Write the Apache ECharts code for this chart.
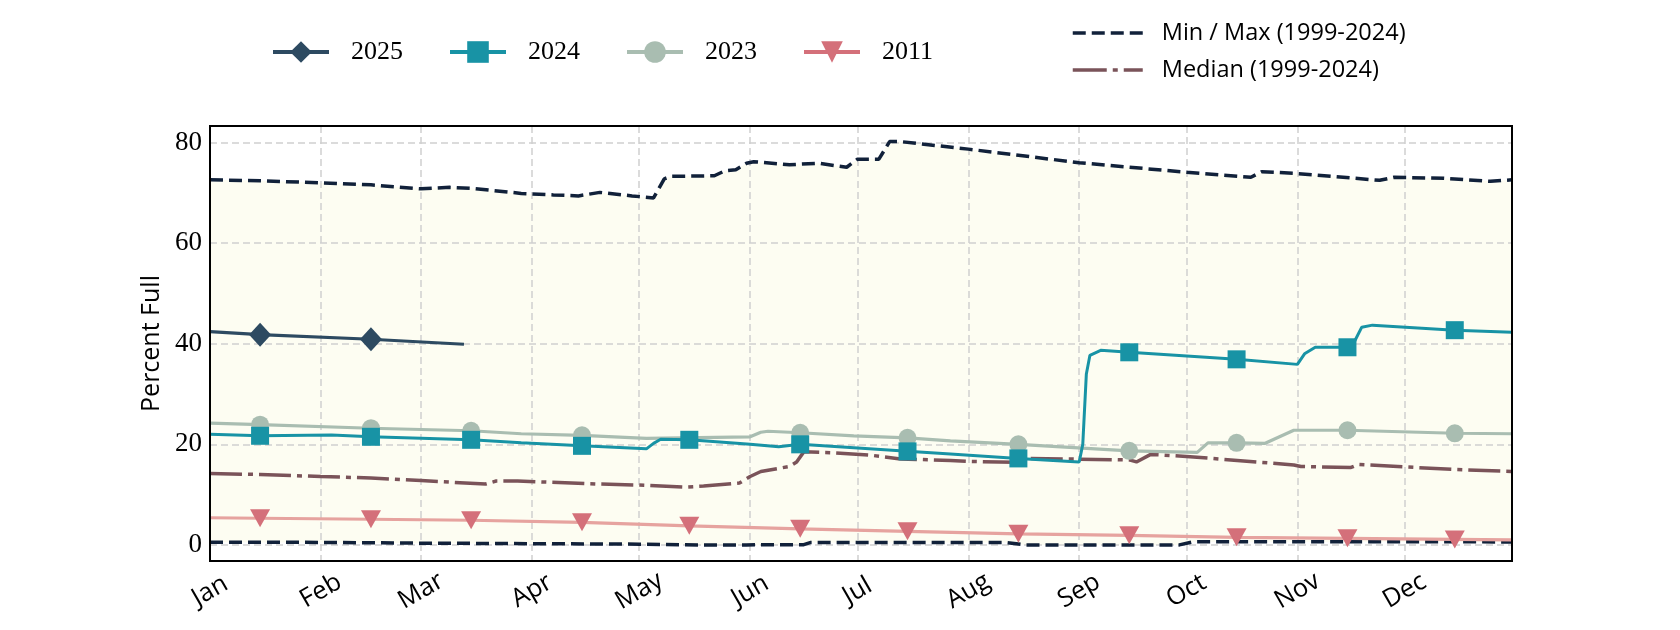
<!DOCTYPE html>
<html><head><meta charset="utf-8">
<script src="https://cdn.jsdelivr.net/npm/echarts@6/dist/echarts.min.js"></script>
<style>html,body{margin:0;padding:0;background:#fff}#c{width:1680px;height:630px}</style>
</head><body><div id="c"></div>
<script>
// ---- axis data ----
const monthLabels = ['Jan','Feb','Mar','Apr','May','Jun','Jul','Aug','Sep','Oct','Nov','Dec'];
const monthStartDays = [0,31,59,90,120,151,181,212,243,273,304,334];
const markerDays = [14,45,73,104,134,165,195,226,257,287,318,348];
const yTicks = [0,20,40,60,80];

// ---- series data: [day of year (0 = Jan 1), percent full] ----
const maxLine = [[0,72.6],[14,72.4],[31,72.0],[45,71.6],[59,70.8],[67,71.1],[73,70.9],[87,69.9],[96,69.6],[103,69.4],[109,70.1],[118,69.4],[124,69.0],[127,72.8],[129,73.3],[141,73.4],[144,74.4],[147,74.6],[150,75.9],[152,76.2],[162,75.6],[170,75.9],[178,75.1],[181,76.7],[187,76.7],[190,80.2],[193,80.2],[212,78.7],[243,76.0],[273,74.1],[291,73.1],[294,74.2],[303,73.9],[327,72.5],[331,73.1],[345,72.9],[358,72.3],[364,72.6]];
const minLine = [[0,0.55],[31,0.5],[59,0.35],[90,0.25],[120,0.15],[137,0.0],[150,0.0],[166,0.05],[168,0.5],[222,0.5],[228,0.0],[271,0.0],[275,0.65],[364,0.6]];
const medianLine = [[0,14.2],[14,14.0],[31,13.6],[45,13.3],[59,12.8],[77,12.1],[80,12.7],[86,12.7],[109,12.1],[120,11.9],[133,11.5],[138,11.7],[148,12.3],[151,13.6],[154,14.6],[162,15.6],[164,16.5],[166,18.5],[175,18.3],[184,17.9],[193,17.1],[207,16.8],[212,16.6],[226,16.4],[228,17.2],[257,16.9],[259,16.5],[263,18.0],[273,17.6],[303,15.9],[305,15.6],[319,15.4],[321,16.0],[348,15.0],[364,14.6]];
const y2025 = [[0,42.4],[14,41.8],[45,40.9],[71,39.9]];
const y2024 = [[0,22.0],[14,21.7],[34,21.85],[45,21.5],[59,21.2],[73,20.9],[87,20.3],[104,19.7],[122,19.1],[124,20.2],[126,21.0],[134,20.9],[151,20.0],[159,19.5],[165,20.0],[180,19.3],[195,18.6],[207,18.1],[226,17.2],[243,16.5],[244,20.0],[245,34.0],[246,37.7],[249,38.7],[257,38.3],[287,36.9],[304,35.9],[306,38.0],[309,39.3],[318,39.3],[320,40.5],[322,43.3],[325,43.7],[348,42.7],[364,42.3]];
const y2023 = [[0,24.2],[14,23.9],[45,23.2],[73,22.7],[87,22.1],[104,21.8],[122,21.2],[151,21.5],[154,22.4],[156,22.6],[165,22.3],[180,21.7],[195,21.3],[207,20.7],[226,20.0],[257,18.7],[276,18.4],[279,20.3],[287,20.3],[295,20.2],[299,21.5],[303,22.8],[318,22.8],[348,22.2],[364,22.1]];
const y2011 = [[0,5.4],[14,5.3],[45,5.1],[73,4.9],[104,4.5],[134,3.8],[165,3.2],[195,2.7],[226,2.2],[257,1.9],[287,1.5],[318,1.3],[348,1.1],[364,1.0]];

const MINMAX = 'Min / Max (1999-2024)';
const MEDIAN = 'Median (1999-2024)';

function withMarkers(pts) {
  return pts.map(p => markerDays.indexOf(p[0]) >= 0 ? {value: p} : {value: p, symbol: 'none'});
}

const chart = echarts.init(document.getElementById('c'), null, {renderer: 'canvas'});
chart.setOption({
  animation: false,
  backgroundColor: '#ffffff',
  grid: {left: 210, right: 168, top: 126, bottom: 69, show: true, z: 10,
         backgroundColor: 'transparent', borderColor: '#000', borderWidth: 2},
  legend: [
    {data: [
       {name:'2025', lineStyle:{width:4}},
       {name:'2024', lineStyle:{width:4}},
       {name:'2023', lineStyle:{width:4}},
       {name:'2011', lineStyle:{color:'#d4707a', width:4}}],
     left: 266, top: 34, orient: 'horizontal', itemWidth: 56, itemHeight: 27, itemGap: 45,
     textStyle: {fontFamily: 'Liberation Serif', fontSize: 26, color: '#000', padding: [0,0,0,17]}},
    {data: [
       {name: MINMAX, itemStyle:{opacity:0}, lineStyle:{width:3.5, type:[13,6]}},
       {name: MEDIAN, itemStyle:{opacity:0}, lineStyle:{width:3.5, type:[34,6,5,6]}}],
     left: 1066, top: 16, orient: 'vertical', itemWidth: 70, itemHeight: 20, itemGap: 13,
     textStyle: {fontFamily: 'Open Sans', fontSize: 23.5, color: '#000', padding: [0,0,0,14]}}
  ],
  xAxis: {
    type: 'value', min: 0, max: 364, z: 2,
    axisLine: {show: false}, axisTick: {show: false, customValues: monthStartDays},
    axisLabel: {customValues: monthStartDays, rotate: 30, align: 'center', verticalAlign: 'middle', margin: 30,
      fontFamily: 'Open Sans', fontSize: 25.5, color: '#000',
      formatter: v => monthLabels[monthStartDays.indexOf(v)]},
    splitLine: {show: true, lineStyle: {color: '#cfcfcf', width: 1.5, type: [7,4]}}
  },
  yAxis: {
    type: 'value', min: -3.2, max: 83.3, z: 2,
    name: 'Percent Full', nameLocation: 'middle', nameRotate: 90, nameGap: 46,
    nameTextStyle: {fontFamily: 'Open Sans', fontSize: 25, color: '#000'},
    axisLine: {show: false}, axisTick: {show: false, customValues: yTicks},
    axisLabel: {customValues: yTicks, margin: 8, fontFamily: 'Liberation Serif', fontSize: 27, color: '#000'},
    splitLine: {show: true, lineStyle: {color: '#cfcfcf', width: 1.5, type: [7,4]}}
  },
  series: [
    {type: 'custom', z: 1, silent: true, data: [[0, 0]],
     renderItem: (params, api) => {
       const pts = maxLine.map(p => api.coord(p)).concat(minLine.slice().reverse().map(p => api.coord(p)));
       return {type: 'polygon', shape: {points: pts}, style: {fill: '#fdfdf2'}};
     }},
    {name: MINMAX, type: 'line', z: 3, data: maxLine, symbol: 'none', showSymbol: false,
     lineStyle: {color: '#11213a', width: 3.5, type: [13,6]}, itemStyle: {color: '#11213a'}},
    {name: MINMAX, type: 'line', z: 3, data: minLine, symbol: 'none', showSymbol: false,
     lineStyle: {color: '#11213a', width: 3.5, type: [13,6]}, itemStyle: {color: '#11213a'}},
    {name: MEDIAN, type: 'line', z: 3, data: medianLine, symbol: 'none', showSymbol: false,
     lineStyle: {color: '#7a5359', width: 3.5, type: [32,6,5,6]}, itemStyle: {color: '#7a5359'}},
    {name: '2011', type: 'line', z: 4, data: withMarkers(y2011), symbol: 'triangle', symbolRotate: 180, symbolSize: [20,18],
     lineStyle: {color: '#e6a39f', width: 3.2}, itemStyle: {color: '#d4707a'}},
    {name: '2023', type: 'line', z: 5, data: withMarkers(y2023), symbol: 'circle', symbolSize: 18,
     lineStyle: {color: '#a9bdb1', width: 3.2}, itemStyle: {color: '#a9bdb1'}},
    {name: '2024', type: 'line', z: 6, data: withMarkers(y2024), symbol: 'rect', symbolSize: 18,
     lineStyle: {color: '#1893a5', width: 3}, itemStyle: {color: '#1893a5'}},
    {name: '2025', type: 'line', z: 7, data: withMarkers(y2025), symbol: 'diamond', symbolSize: [22,24],
     lineStyle: {color: '#2d4a61', width: 3.2}, itemStyle: {color: '#2d4a61'}}
  ]
});
</script></body></html>
